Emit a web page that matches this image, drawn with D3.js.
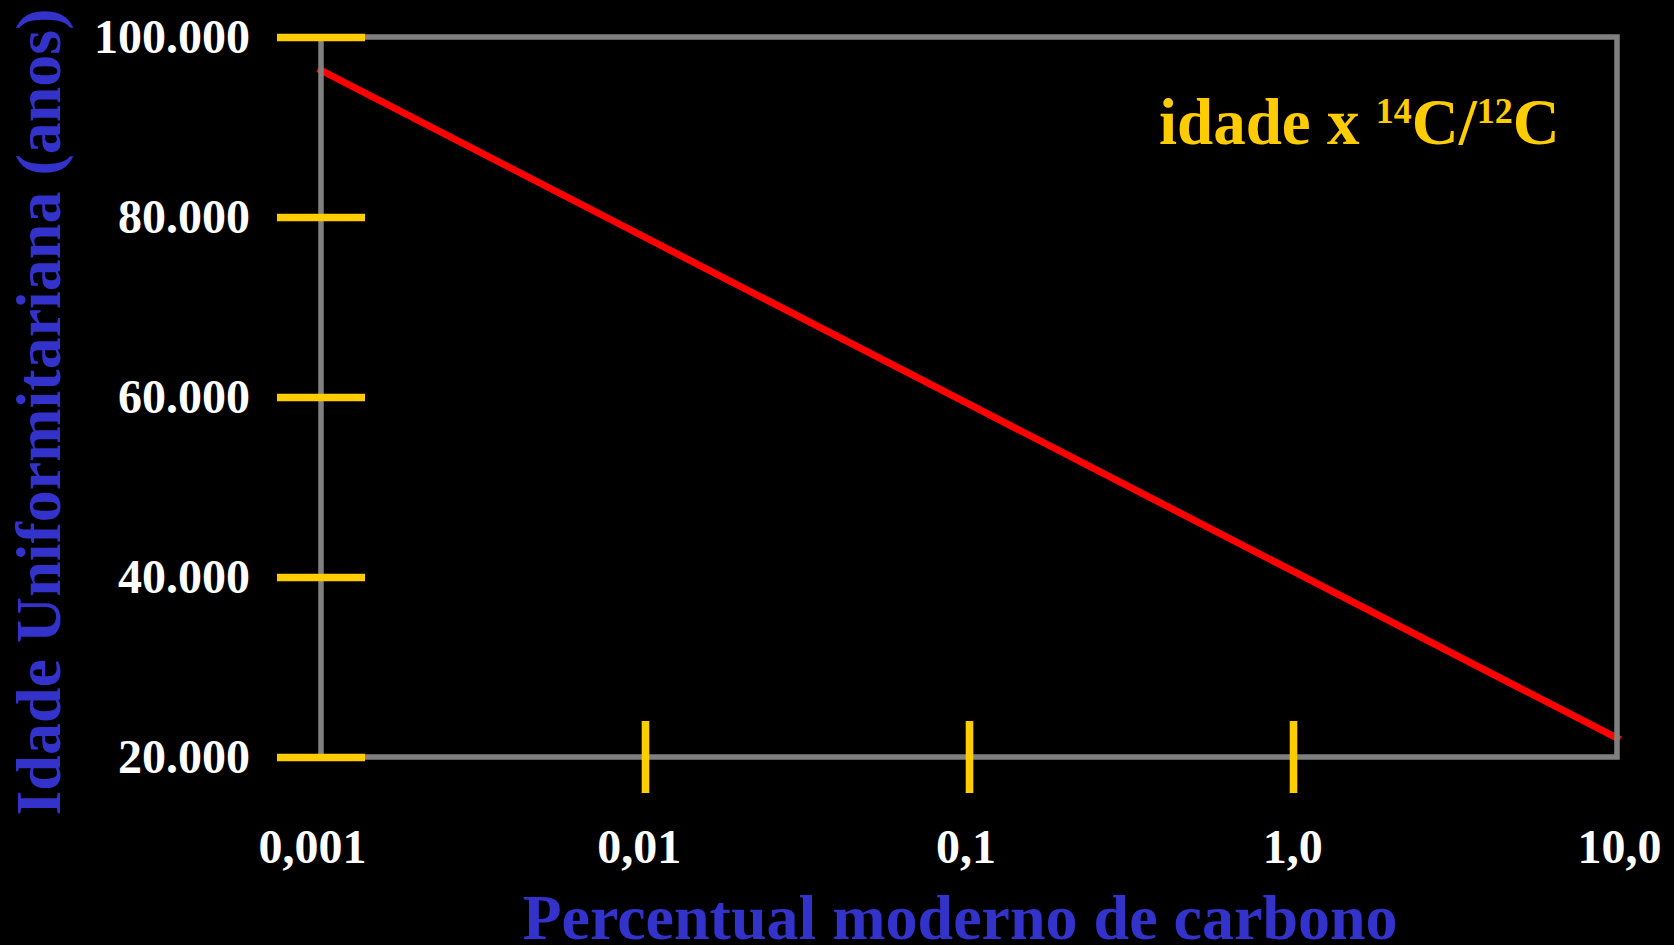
<!DOCTYPE html>
<html>
<head>
<meta charset="utf-8">
<script src="https://cdn.jsdelivr.net/npm/d3@7/dist/d3.min.js"></script>
<style>
  html, body { margin: 0; padding: 0; background: #000; }
  svg { display: block; }
  text { font-family: "Liberation Serif", "Times New Roman", serif; font-weight: bold; }
</style>
</head>
<body>
<svg id="chart" width="1674" height="945"></svg>
<script>
// Percent modern carbon (log axis) against uniformitarian age
const pmc = [0.001, 0.01, 0.1, 1, 10];
const ages = [96300, 77750, 59200, 40650, 22100];

const xTickValues = [0.001, 0.01, 0.1, 1, 10];
const xTickLabels = ["0,001", "0,01", "0,1", "1,0", "10,0"];
const xTickMarks = [0.01, 0.1, 1];
const yTickValues = [20000, 40000, 60000, 80000, 100000];
const yTickLabels = ["20.000", "40.000", "60.000", "80.000", "100.000"];

const W = 1674, H = 945;
const plot = { left: 321, right: 1617, top: 37, bottom: 757 };

const COLORS = {
  frame: "#808080",
  tick: "#ffcc00",
  line: "#ff0000",
  label: "#ffffff",
  axisTitle: "#3333cc",
  title: "#ffcc00"
};

const svg = d3.select("#chart");
svg.append("rect").attr("width", W).attr("height", H).attr("fill", "#000");

const x = d3.scaleLog().domain([0.001, 10]).range([plot.left, plot.right]);
const y = d3.scaleLinear().domain([20000, 100000]).range([plot.bottom, plot.top]);
// decade labels sit on a slightly wider spread than the frame
const xLabel = x.copy().range([plot.left - 9, plot.right + 2]);

// data line
const line = d3.line().x((d, i) => x(pmc[i])).y(d => y(d));
svg.append("path")
  .datum(ages)
  .attr("d", line)
  .attr("fill", "none")
  .attr("stroke", COLORS.line)
  .attr("stroke-width", 7)
  .attr("stroke-linecap", "square");

// plot frame
svg.append("rect")
  .attr("x", x(0.001))
  .attr("y", y(100000))
  .attr("width", x(10) - x(0.001))
  .attr("height", y(20000) - y(100000))
  .attr("fill", "none")
  .attr("stroke", COLORS.frame)
  .attr("stroke-width", 5.5);

// y axis: ticks centred on the left edge of the frame
const yTickLen = 88;
const yAxis = d3.axisLeft(y)
  .tickValues(yTickValues)
  .tickSize(yTickLen)
  .tickPadding(27)
  .tickFormat(d => yTickLabels[yTickValues.indexOf(d)]);
const gy = svg.append("g")
  .attr("transform", `translate(${plot.left + yTickLen / 2},0)`)
  .call(yAxis);
gy.select(".domain").remove();
gy.selectAll(".tick line").attr("stroke", COLORS.tick).attr("stroke-width", 7.4);
gy.selectAll(".tick text")
  .attr("fill", COLORS.label)
  .attr("font-size", 48)
  .attr("font-family", "'Liberation Serif', 'Times New Roman', serif")
  .attr("font-weight", "bold")
  .attr("dy", "0.32em");

// x axis tick marks (inner decades only)
const xTickLen = 72;
const xMarks = d3.axisBottom(x)
  .tickValues(xTickMarks)
  .tickSize(xTickLen)
  .tickFormat("");
const gxm = svg.append("g")
  .attr("transform", `translate(0,${plot.bottom - xTickLen / 2})`)
  .call(xMarks);
gxm.select(".domain").remove();
gxm.selectAll(".tick line").attr("stroke", COLORS.tick).attr("stroke-width", 7.6);

// x axis labels
const xLabels = d3.axisBottom(xLabel)
  .tickValues(xTickValues)
  .tickSize(0)
  .tickPadding(72)
  .tickFormat(d => xTickLabels[xTickValues.indexOf(d)]);
const gx = svg.append("g")
  .attr("transform", `translate(0,${plot.bottom})`)
  .call(xLabels);
gx.select(".domain").remove();
gx.selectAll(".tick text")
  .attr("fill", COLORS.label)
  .attr("font-size", 48)
  .attr("font-family", "'Liberation Serif', 'Times New Roman', serif")
  .attr("font-weight", "bold");

// axis titles
svg.append("text")
  .attr("x", 960)
  .attr("y", 939)
  .attr("text-anchor", "middle")
  .attr("font-size", 64)
  .attr("fill", COLORS.axisTitle)
  .text("Percentual moderno de carbono");

svg.append("text")
  .attr("transform", "translate(60,412) rotate(-90)")
  .attr("text-anchor", "middle")
  .attr("font-size", 64)
  .attr("fill", COLORS.axisTitle)
  .text("Idade Uniformitariana (anos)");

// chart title with isotope superscripts
const title = svg.append("text")
  .attr("x", 1159)
  .attr("y", 144)
  .attr("font-size", 65)
  .attr("fill", COLORS.title);
title.append("tspan").text("idade x ");
title.append("tspan").attr("font-size", 36).attr("dy", -21).text("14");
title.append("tspan").attr("dy", 21).text("C/");
title.append("tspan").attr("font-size", 36).attr("dy", -21).text("12");
title.append("tspan").attr("dy", 21).text("C");
</script>
</body>
</html>
